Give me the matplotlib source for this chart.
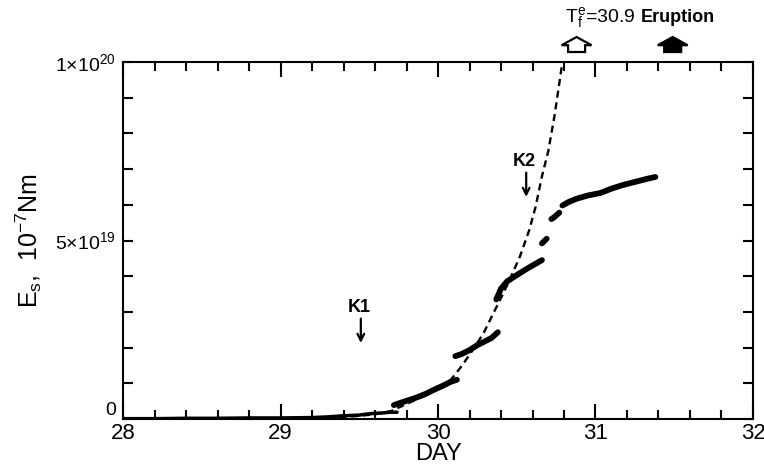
import numpy as np
import matplotlib
matplotlib.use("Agg")
import matplotlib.pyplot as plt
from matplotlib.patches import Polygon
from matplotlib.ticker import MultipleLocator

plt.rcParams['font.family'] = ['Liberation Sans', 'DejaVu Sans']
plt.rcParams['mathtext.fontset'] = 'custom'
plt.rcParams['mathtext.rm'] = 'Liberation Sans'
plt.rcParams['mathtext.it'] = 'Liberation Sans'

# observed cumulative energy (units of 1e18), NaN breaks the jumps
day = [28.0, 28.2, 28.4, 28.6, 28.8, 29.0, 29.2, 29.3, 29.4, 29.5, 29.55, 29.6, 29.65, 29.7, 29.74, np.nan,
       29.72, 29.78, 29.85, 29.92, 29.97, 30.03, 30.08, 30.12, np.nan,
       30.11, 30.15, 30.2, 30.25, 30.3, 30.34, 30.38, np.nan,
       30.37, 30.4, 30.44, 30.5, 30.55, 30.6, 30.66, np.nan,
       30.66, 30.69, np.nan,
       30.72, 30.74, 30.77, np.nan,
       30.79, 30.83, 30.88, 30.95, 31.03, 31.1, 31.17, 31.25, 31.32, 31.38]
energy = [0.1, 0.1, 0.2, 0.2, 0.3, 0.3, 0.4, 0.6, 0.9, 1.1, 1.4, 1.6, 1.7, 1.9, 1.9, np.nan,
          3.9, 4.8, 5.8, 7.0, 8.1, 9.3, 10.4, 11.0, np.nan,
          17.6, 18.2, 19.3, 20.7, 21.8, 22.7, 24.3, np.nan,
          33.5, 36.5, 38.6, 40.3, 41.7, 43.0, 44.5, np.nan,
          49.2, 50.5, np.nan,
          56.0, 56.6, 57.8, np.nan,
          59.8, 60.8, 61.7, 62.6, 63.3, 64.5, 65.5, 66.4, 67.2, 67.8]

# fitted curve
fit_day = [29.0, 29.2, 29.4, 29.6, 29.7, 29.8, 29.9, 30.0, 30.08, 30.15, 30.22, 30.29, 30.35,
           30.39, 30.45, 30.52, 30.58, 30.62, 30.66, 30.70, 30.74, 30.79]
fit_energy = [0.0, 0.1, 0.5, 1.3, 2.2, 4.2, 6.2, 8.5, 10.9, 14.8, 19.3, 24.1, 29.5,
              33.0, 38.5, 45.5, 53.0, 59.5, 68.0, 75.0, 85.0, 100.0]

k_labels = ['K1', 'K2']
k_days = [29.51, 30.56]
k_energy = [21.3, 62.2]

tf_day = 30.9
eruption_day = 31.5
scale = 1e18

fig = plt.figure(figsize=(7.64, 4.69), dpi=100)
ax = fig.add_axes([0.161, 0.1066, 0.8246, 0.7612])

ax.plot(fit_day, np.array(fit_energy) * scale, ls=(0, (3, 2)), c='k', lw=1.7)

# quiet background part is thinner than the later bursts
d = np.array(day)
e = np.array(energy) * scale
n0 = int(np.argmax(np.isnan(d)))
ax.plot(d[:n0], e[:n0], '-', c='k', lw=2.5, solid_capstyle='round')
ax.plot(d[n0:], e[n0:], '-', c='k', lw=4.2, solid_capstyle='round')

ax.set_xlim(28, 32)
ax.set_ylim(0, 1e20)
ax.set_xticks([28, 29, 30, 31, 32])
ax.xaxis.set_minor_locator(MultipleLocator(0.2))
ax.set_yticks([0, 5e19, 1e20])
ax.set_yticklabels(['0', r'5$\times$10$^{19}$', r'1$\times$10$^{20}$'])
ax.yaxis.set_minor_locator(MultipleLocator(1e19))
ax.tick_params(axis='both', which='both', direction='in', top=True, right=True, width=1.5)
ax.tick_params(axis='x', which='major', length=11, labelsize=16, pad=3)
ax.tick_params(axis='x', which='minor', length=6.5)
ax.tick_params(axis='y', which='both', length=7.5, labelsize=14, pad=5)
for s in ax.spines.values():
    s.set_linewidth(1.5)
ax.get_yticklabels()[0].set_va('bottom')

ax.set_xlabel('DAY', fontsize=17, labelpad=-1)
ax.set_ylabel(r'E$_{\rm s}$,  10$^{-7}$Nm', fontsize=18, labelpad=8)

for lab, x, y in zip(k_labels, k_days, k_energy):
    ax.annotate('', xy=(x, y * scale), xytext=(x, (y + 6.8) * scale),
                arrowprops=dict(arrowstyle='->', lw=1.6, color='k', mutation_scale=12,
                                shrinkA=0, shrinkB=0))
    ax.text(x - 0.01, (y + 7.6) * scale, lab, ha='center', va='bottom',
            fontsize=13, fontweight='bold')

# block arrows above the frame
def block_arrow(x0, filled):
    hw, sw = 0.095, 0.054
    pts = [(x0, 107.0), (x0 - hw, 104.7), (x0 - sw, 104.7), (x0 - sw, 102.8),
           (x0 + sw, 102.8), (x0 + sw, 104.7), (x0 + hw, 104.7)]
    pts = [(px, py * scale) for px, py in pts]
    ax.add_patch(Polygon(pts, closed=True, clip_on=False, lw=1.6, edgecolor='k',
                         facecolor='k' if filled else 'white', joinstyle='miter'))

block_arrow(tf_day - 0.02, False)
block_arrow(eruption_day - 0.01, True)
ax.text(31.03, 112.6 * scale, r'T$_{\rm f}^{\rm e}$=30.9', ha='center', va='center', fontsize=14)
ax.text(31.52, 112.6 * scale, 'Eruption', ha='center', va='center', fontsize=13, fontweight='bold')

fig.savefig('out.png', dpi=100)
